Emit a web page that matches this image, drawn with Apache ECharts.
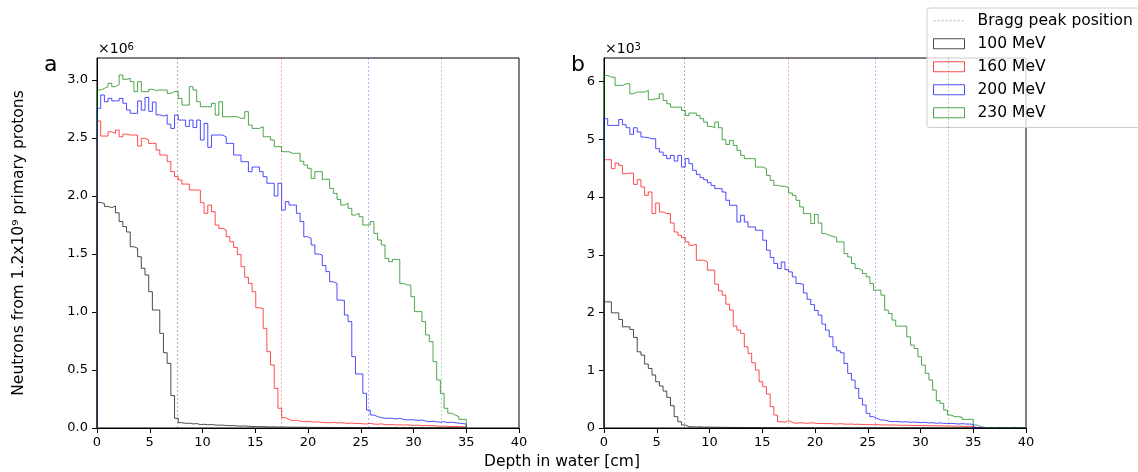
<!DOCTYPE html>
<html>
<head>
<meta charset="utf-8">
<script src="https://cdn.jsdelivr.net/npm/echarts@6/dist/echarts.min.js"></script>
<style>
  html, body { margin: 0; padding: 0; background: #fff; }
  #chart { width: 1138px; height: 472px; }
</style>
</head>
<body>
<div id="chart"></div>
<script>
// depth bins are 0.35 cm wide, starting at 0
var binWidth = 0.35
var energies = ['100 MeV', '160 MeV', '200 MeV', '230 MeV']
var braggLabel = 'Bragg peak position'
var braggDepth = [7.6, 17.5, 25.7, 32.6]
var xTicks = [0, 5, 10, 15, 20, 25, 30, 35, 40]
var aTicks = [0, 0.5, 1.0, 1.5, 2.0, 2.5, 3.0]
var bTicks = [0, 1, 2, 3, 4, 5, 6]

// panel a, neutrons (x10^6)
var aN100 = [
  1.945, 1.935, 1.91, 1.90, 1.914, 1.856, 1.78, 1.736, 1.69, 1.563,
  1.55, 1.477, 1.377, 1.319, 1.175, 1.017, 1.017, 0.816, 0.649, 0.557,
  0.279, 0.084, 0.046, 0.040, 0.042, 0.035, 0.038, 0.030, 0.032, 0.028,
  0.030, 0.026, 0.024, 0.025, 0.022, 0.020, 0.021, 0.018, 0.016, 0.018,
  0.015, 0.013, 0.012, 0.011, 0.012, 0.010, 0.009, 0.010, 0.008, 0.009,
  0.008, 0.007, 0.008, 0.007, 0.006, 0.007, 0.006, 0.006, 0.005, 0.006,
  0.005, 0.005, 0.004, 0.005, 0.004, 0.004, 0.005, 0.004, 0.004, 0.003,
  0.004, 0.003, 0.004, 0.003, 0.003, 0.004, 0.003, 0.003, 0.002, 0.003,
  0.003, 0.002, 0.003, 0.002, 0.003, 0.002, 0.002, 0.003, 0.002, 0.002,
  0.002, 0.002, 0.002, 0.001, 0.002, 0.002, 0.001, 0.002, 0.001, 0.001
]
var aN160 = [
  2.647, 2.517, 2.517, 2.554, 2.54, 2.569, 2.511, 2.534, 2.526, 2.526,
  2.526, 2.431, 2.497, 2.483, 2.454, 2.454, 2.397, 2.353, 2.353, 2.296,
  2.21, 2.167, 2.138, 2.103, 2.103, 2.052, 2.052, 2.05, 1.943, 1.851,
  1.922, 1.865, 1.75, 1.72, 1.707, 1.649, 1.606, 1.557, 1.497, 1.391,
  1.299, 1.247, 1.175, 1.037, 1.03, 0.859, 0.658, 0.543, 0.342, 0.17,
  0.089, 0.075, 0.063, 0.068, 0.06, 0.055, 0.058, 0.054, 0.05, 0.054,
  0.048, 0.046, 0.045, 0.048, 0.044, 0.046, 0.042, 0.04, 0.043, 0.038,
  0.04, 0.036, 0.035, 0.04, 0.034, 0.032, 0.036, 0.03, 0.028, 0.03,
  0.026, 0.028, 0.025, 0.027, 0.024, 0.022, 0.025, 0.02, 0.022, 0.019,
  0.02, 0.017, 0.015, 0.016, 0.013, 0.012, 0.014, 0.011, 0.01, 0.011
]
var aN200 = [
  2.756, 2.871, 2.813, 2.842, 2.82, 2.82, 2.842, 2.80, 2.742, 2.713,
  2.713, 2.82, 2.74, 2.85, 2.73, 2.81, 2.70, 2.69, 2.70, 2.62,
  2.583, 2.698, 2.655, 2.655, 2.60, 2.655, 2.59, 2.655, 2.483, 2.626,
  2.42, 2.526, 2.526, 2.526, 2.51, 2.454, 2.454, 2.353, 2.353, 2.296,
  2.296, 2.21, 2.25, 2.25, 2.21, 2.167, 2.11, 2.11, 2.0, 2.11,
  1.879, 1.951, 1.922, 1.922, 1.851, 1.78, 1.649, 1.635, 1.578, 1.50,
  1.491, 1.40, 1.348, 1.261, 1.247, 1.103, 1.10, 0.974, 0.917, 0.615,
  0.466, 0.466, 0.299, 0.155, 0.112, 0.098, 0.09, 0.083, 0.085, 0.083,
  0.078, 0.083, 0.075, 0.069, 0.072, 0.069, 0.065, 0.069, 0.06, 0.054,
  0.058, 0.054, 0.05, 0.054, 0.046, 0.05, 0.046, 0.042, 0.038, 0.034
]
var aN230 = [
  2.914, 2.928, 2.943, 2.971, 2.943, 2.96, 3.043, 3.006, 3.014, 2.986,
  2.90, 2.986, 2.90, 2.90, 2.92, 2.91, 2.914, 2.914, 2.914, 2.885,
  2.90, 2.90, 2.842, 2.784, 2.784, 2.943, 2.914, 2.813, 2.77, 2.77,
  2.77, 2.799, 2.698, 2.813, 2.684, 2.684, 2.684, 2.684, 2.67, 2.67,
  2.727, 2.612, 2.583, 2.583, 2.598, 2.511, 2.511, 2.483, 2.425, 2.425,
  2.382, 2.382, 2.368, 2.368, 2.368, 2.30, 2.267, 2.239, 2.152, 2.21,
  2.21, 2.144, 2.144, 2.066, 2.023, 1.971, 1.922, 1.937, 1.894, 1.836,
  1.851, 1.822, 1.75, 1.75, 1.779, 1.678, 1.621, 1.578, 1.463, 1.434,
  1.454, 1.454, 1.247, 1.233, 1.233, 1.132, 1.003, 1.003, 0.917, 0.802,
  0.744, 0.572, 0.414, 0.299, 0.17, 0.127, 0.112, 0.098, 0.075, 0.075
]

// panel b, neutrons (x10^3)
var bN100 = [
  2.186, 2.186, 1.995, 1.995, 1.88, 1.753, 1.753, 1.707, 1.569, 1.32,
  1.263, 1.107, 1.032, 0.917, 0.801, 0.727, 0.64, 0.531, 0.386, 0.196,
  0.109, 0.052, 0.023, 0.02, 0.018, 0.02, 0.015, 0.017, 0.014, 0.012,
  0.013, 0.011, 0.012, 0.01, 0.009, 0.01, 0.008, 0.009, 0.007, 0.008,
  0.007, 0.006, 0.007, 0.006, 0.005, 0.006, 0.005, 0.005, 0.004, 0.005,
  0.004, 0.004, 0.004, 0.003, 0.004, 0.003, 0.003, 0.004, 0.003, 0.003,
  0.003, 0.002, 0.003, 0.002, 0.003, 0.002, 0.002, 0.002, 0.003, 0.002,
  0.002, 0.002, 0.002, 0.002, 0.001, 0.002, 0.002, 0.001, 0.002, 0.001,
  0.002, 0.001, 0.001, 0.002, 0.001, 0.001, 0.001, 0.002, 0.001, 0.001,
  0.001, 0.001, 0.001, 0.001, 0.001, 0.001, 0.001, 0.001, 0.001, 0.001,
  0.006, 0.002, 0.008, 0.003, 0.007, 0.002, 0.006, 0.003, 0.008, 0.002,
  0.007, 0.003, 0.006, 0.002
]
var bN160 = [
  4.648, 4.648, 4.493, 4.59, 4.55, 4.406, 4.417, 4.417, 4.221, 4.302,
  4.175, 4.031, 4.089, 3.714, 3.898, 3.742, 3.714, 3.714, 3.552, 3.396,
  3.339, 3.299, 3.224, 3.166, 3.183, 2.907, 2.907, 2.877, 2.734, 2.734,
  2.491, 2.376, 2.301, 2.145, 2.042, 1.765, 1.696, 1.638, 1.407, 1.292,
  1.13, 1.003, 0.801, 0.715, 0.588, 0.369, 0.225, 0.109, 0.098, 0.127,
  0.098, 0.081, 0.092, 0.087, 0.081, 0.09, 0.085, 0.078, 0.081, 0.075,
  0.078, 0.072, 0.069, 0.075, 0.069, 0.066, 0.069, 0.063, 0.066, 0.06,
  0.063, 0.058, 0.055, 0.06, 0.052, 0.055, 0.05, 0.052, 0.048, 0.05,
  0.046, 0.048, 0.044, 0.042, 0.046, 0.04, 0.042, 0.038, 0.04, 0.036,
  0.035, 0.038, 0.033, 0.035, 0.03, 0.032, 0.029, 0.028, 0.03, 0.026,
  0.004, 0.009, 0.003, 0.008, 0.004, 0.009, 0.003, 0.008, 0.004, 0.009,
  0.003, 0.008, 0.004, 0.007
]
var bN200 = [
  5.358, 5.242, 5.242, 5.242, 5.346, 5.255, 5.202, 5.087, 5.202, 5.127,
  5.04, 5.029, 5.012, 5.012, 4.839, 4.78, 4.723, 4.666, 4.723, 4.625,
  4.723, 4.521, 4.666, 4.579, 4.464, 4.394, 4.337, 4.30, 4.25, 4.20,
  4.147, 4.147, 4.088, 3.945, 3.858, 3.858, 3.569, 3.685, 3.569, 3.483,
  3.483, 3.426, 3.426, 3.253, 3.08, 2.953, 2.849, 2.763, 2.877, 2.745,
  2.704, 2.618, 2.503, 2.49, 2.34, 2.23, 2.137, 2.036, 1.955, 1.80,
  1.696, 1.58, 1.407, 1.338, 1.303, 1.119, 0.946, 0.83, 0.686, 0.513,
  0.398, 0.254, 0.196, 0.167, 0.138, 0.138, 0.121, 0.109, 0.115, 0.109,
  0.104, 0.109, 0.098, 0.104, 0.098, 0.092, 0.098, 0.087, 0.092, 0.081,
  0.087, 0.081, 0.075, 0.081, 0.075, 0.069, 0.075, 0.069, 0.069, 0.063,
  0.008, 0.003, 0.009, 0.004, 0.008, 0.003, 0.009, 0.004, 0.008, 0.003,
  0.009, 0.004, 0.008, 0.003
]
var bN230 = [
  6.107, 6.078, 6.078, 5.934, 5.934, 5.963, 5.963, 5.79, 5.819, 5.819,
  5.819, 5.848, 5.687, 5.704, 5.704, 5.79, 5.675, 5.617, 5.559, 5.559,
  5.559, 5.502, 5.415, 5.456, 5.456, 5.415, 5.358, 5.30, 5.225, 5.202,
  5.30, 5.202, 4.994, 4.913, 4.983, 4.896, 4.81, 4.723, 4.666, 4.666,
  4.666, 4.521, 4.521, 4.493, 4.377, 4.291, 4.204, 4.187, 4.187, 4.158,
  4.071, 4.031, 3.945, 3.83, 3.714, 3.714, 3.541, 3.70, 3.55, 3.368,
  3.339, 3.32, 3.30, 3.224, 3.224, 3.022, 2.964, 2.849, 2.763, 2.734,
  2.676, 2.618, 2.503, 2.388, 2.388, 2.301, 2.042, 1.984, 1.869, 1.765,
  1.765, 1.765, 1.58, 1.436, 1.378, 1.234, 1.09, 0.946, 0.83, 0.657,
  0.473, 0.427, 0.311, 0.225, 0.196, 0.196, 0.185, 0.15, 0.15, 0.15,
  0.052, 0.023, 0.012, 0.006, 0.011, 0.005, 0.012, 0.006, 0.011, 0.005,
  0.012, 0.006, 0.011, 0.005
]

var lineColors = ['rgba(0,0,0,0.7)', 'rgba(255,0,0,0.7)', 'rgba(0,0,255,0.7)', 'rgba(0,128,0,0.7)']
var braggColors = ['rgba(0,0,0,0.3)', 'rgba(255,0,0,0.35)', 'rgba(0,0,255,0.3)', 'rgba(0,128,0,0.3)']
var font = '"DejaVu Sans", sans-serif'
var supRich = { s: { fontSize: 10, verticalAlign: 'top', lineHeight: 10, fontFamily: font, color: '#000' } }

// histogram outline (histtype step): up from 0 at the first edge, down to 0 at the last edge
function toSteps(vals) {
  var pts = [[0, 0]]
  vals.forEach(function(v, i) {
    pts.push([i * binWidth, v])
  })
  var end = vals.length * binWidth
  pts.push([end, vals[vals.length - 1]])
  pts.push([end, 0])
  return pts
}

function histSeries(panel, k, vals) {
  return {
    type: 'line',
    name: energies[k],
    xAxisIndex: panel,
    yAxisIndex: panel,
    step: 'end',
    symbol: 'none',
    data: toSteps(vals),
    lineStyle: { color: lineColors[k], width: 1 },
    itemStyle: { color: lineColors[k] },
    z: 2 + k,
    markLine: {
      silent: true,
      symbol: 'none',
      label: { show: false },
      lineStyle: { color: braggColors[k], width: 1, type: [2, 2] },
      data: [{ xAxis: braggDepth[k] }]
    }
  }
}

function xAxisFor(panel) {
  return {
    type: 'value',
    gridIndex: panel,
    min: 0,
    max: 40,
    interval: 5,
    axisLine: { show: true, lineStyle: { color: '#000', width: 1 } },
    axisTick: { show: true, length: 5, customValues: xTicks, lineStyle: { color: '#000', width: 1 } },
    axisLabel: { margin: 8, fontSize: 13, color: '#000', fontFamily: font, customValues: xTicks },
    splitLine: { show: false }
  }
}

function yAxisFor(panel, max, ticks, fmt) {
  return {
    type: 'value',
    gridIndex: panel,
    min: 0,
    max: max,
    axisLine: { show: true, lineStyle: { color: '#000', width: 1 } },
    axisTick: { show: true, length: 5, customValues: ticks, lineStyle: { color: '#000', width: 1 } },
    axisLabel: { margin: 9, fontSize: 13, color: '#000', fontFamily: font, customValues: ticks, formatter: fmt },
    splitLine: { show: false }
  }
}

var chart = echarts.init(document.getElementById('chart'))
var series = [
  histSeries(0, 0, aN100), histSeries(0, 1, aN160), histSeries(0, 2, aN200), histSeries(0, 3, aN230),
  histSeries(1, 0, bN100), histSeries(1, 1, bN160), histSeries(1, 2, bN200), histSeries(1, 3, bN230),
  {
    // only for the legend entry
    type: 'line',
    name: braggLabel,
    xAxisIndex: 0,
    yAxisIndex: 0,
    symbol: 'none',
    data: [],
    lineStyle: { color: 'rgba(0,0,0,0.3)', width: 1, type: [2, 2] },
    itemStyle: { color: 'rgba(0,0,0,0.3)' }
  }
]

var legendData = [{
  name: braggLabel,
  itemStyle: { opacity: 0 },
  lineStyle: { color: 'rgba(0,0,0,0.3)', width: 1, type: [2, 2] }
}]
energies.forEach(function(name, k) {
  legendData.push({
    name: name,
    icon: 'rect',
    itemStyle: { color: 'rgba(0,0,0,0)', borderColor: lineColors[k], borderWidth: 1 }
  })
})

var yA = yAxisFor(0, 3.19, aTicks, function(v) { return v.toFixed(1) })
yA.name = 'Neutrons from 1.2x10⁹ primary protons'
yA.nameLocation = 'middle'
yA.nameGap = 70
yA.nameTextStyle = { fontSize: 15.5, color: '#000', fontFamily: font }
var yB = yAxisFor(1, 6.41, bTicks, function(v) { return String(v) })

chart.setOption({
  animation: false,
  textStyle: { fontFamily: font },
  grid: [
    { left: 97, top: 58, width: 422, height: 370, show: true, borderColor: '#000', borderWidth: 1 },
    { left: 604, top: 58, width: 422, height: 370, show: true, borderColor: '#000', borderWidth: 1 }
  ],
  xAxis: [xAxisFor(0), xAxisFor(1)],
  yAxis: [yA, yB],
  legend: {
    orient: 'vertical',
    left: 927,
    top: 8,
    padding: [4, 8, 6, 6],
    itemWidth: 31,
    itemHeight: 10,
    itemGap: 5.5,
    backgroundColor: 'rgba(255,255,255,0.8)',
    borderColor: '#cccccc',
    borderWidth: 1,
    borderRadius: 3,
    selectedMode: false,
    textStyle: { fontSize: 15.5, lineHeight: 17.5, color: '#000', fontFamily: font, padding: [0, 0, 0, 8] },
    data: legendData
  },
  graphic: [
    { type: 'text', x: 44, y: 65, style: { text: 'a', font: '22px ' + font, fill: '#000', verticalAlign: 'middle' } },
    { type: 'text', x: 571, y: 65, style: { text: 'b', font: '22px ' + font, fill: '#000', verticalAlign: 'middle' } },
    { type: 'text', x: 98, y: 42, style: { text: '×10{s|6}', font: '14px ' + font, fill: '#000', rich: supRich } },
    { type: 'text', x: 605, y: 42, style: { text: '×10{s|3}', font: '14px ' + font, fill: '#000', rich: supRich } },
    { type: 'text', x: 562, y: 462, style: { text: 'Depth in water [cm]', font: '15.5px ' + font, fill: '#000', align: 'center', verticalAlign: 'middle' } }
  ],
  series: series
})
</script>
</body>
</html>
